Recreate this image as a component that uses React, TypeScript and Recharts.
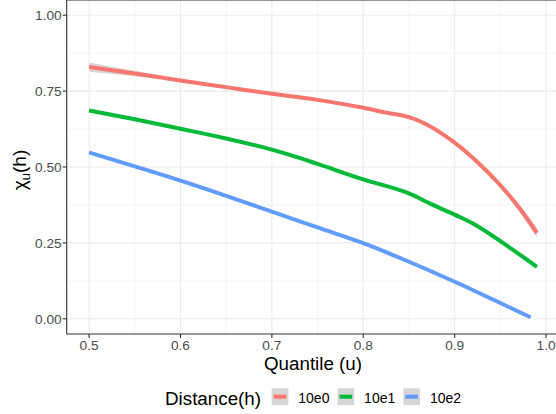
import { ComposedChart, Line, Area, XAxis, YAxis, ReferenceLine } from 'recharts';

// quantile u and chi_u(h), one set per distance
const u10e0 = [0.5, 0.55, 0.6, 0.65, 0.7, 0.75, 0.8, 0.825, 0.85, 0.866, 0.9, 0.92, 0.95, 0.972, 0.99];
const chi10e0 = [0.829, 0.808, 0.785, 0.763, 0.741, 0.721, 0.695, 0.679, 0.664, 0.645, 0.58, 0.53, 0.44, 0.36, 0.283];
const se10e0 = [0.015, 0.009, 0.006, 0.005, 0.005, 0.005, 0.005, 0.005, 0.005, 0.005, 0.006, 0.007, 0.009, 0.012, 0.016];

const u10e1 = [0.5, 0.55, 0.6, 0.65, 0.7, 0.73, 0.75, 0.8, 0.85, 0.875, 0.9, 0.92, 0.95, 0.99];
const chi10e1 = [0.686, 0.657, 0.626, 0.594, 0.557, 0.53, 0.51, 0.459, 0.413, 0.377, 0.343, 0.314, 0.256, 0.171];
const se10e1 = [0.005, 0.004, 0.003, 0.003, 0.003, 0.003, 0.003, 0.003, 0.003, 0.003, 0.003, 0.003, 0.004, 0.005];

const u10e2 = [0.5, 0.55, 0.6, 0.65, 0.7, 0.75, 0.8, 0.85, 0.9, 0.95, 0.983];
const chi10e2 = [0.548, 0.502, 0.455, 0.405, 0.353, 0.301, 0.249, 0.188, 0.122, 0.052, 0.005];
const se10e2 = [0.003, 0.002, 0.002, 0.002, 0.002, 0.002, 0.002, 0.002, 0.002, 0.003, 0.003];

const xTicks = [0.5, 0.6, 0.7, 0.8, 0.9, 1.0];
const xMinor = [0.55, 0.65, 0.75, 0.85, 0.95];
const yTicks = [0, 0.25, 0.5, 0.75, 1.0];
const yMinor = [0.125, 0.375, 0.625, 0.875];

const FONT = '"Liberation Sans", Arial, sans-serif';

const toRows = (u: number[], chi: number[], se: number[]) =>
  u.map((x, i) => ({ u: x, chi: chi[i], band: [chi[i] - se[i], chi[i] + se[i]] }));

const series = [
  { name: '10e0', color: '#F8766D', rows: toRows(u10e0, chi10e0, se10e0) },
  { name: '10e1', color: '#00BA38', rows: toRows(u10e1, chi10e1, se10e1) },
  { name: '10e2', color: '#619CFF', rows: toRows(u10e2, chi10e2, se10e2) },
];

const XTitle = ({ viewBox }: any) => (
  <text x={viewBox.x + viewBox.width / 2} y={370} textAnchor="middle" fontSize={18.8} fill="#000" fontFamily={FONT}>
    Quantile (u)
  </text>
);

const YTitle = () => (
  <text x={26} y={170} transform="rotate(-90 26 170)" textAnchor="middle" fontSize={19} fill="#000" fontFamily={FONT}>
    χ<tspan dy={4} fontSize={13}>u</tspan>
    <tspan dy={-4}>(h)</tspan>
  </text>
);

function LegendOverlay() {
  return (
    <svg width={556} height={414} style={{ position: 'absolute', left: 0, top: 0, pointerEvents: 'none' }}>
      <text x={165} y={405} fontSize={18.8} fontFamily={FONT} fill="#000">Distance(h)</text>
      {series.map((s, i) => {
        const x0 = 271.7 + i * 65.8;
        return (
          <g key={s.name}>
            <rect x={x0} y={388.3} width={16.7} height={16.7} fill="#999999" fillOpacity={0.4} />
            <line x1={x0 + 2} x2={x0 + 14.7} y1={396.7} y2={396.7} stroke={s.color} strokeWidth={4} />
            <text x={x0 + 26.6} y={402.7} fontSize={14} fontFamily={FONT} fill="#000">{s.name}</text>
          </g>
        );
      })}
    </svg>
  );
}

export default function App() {
  const tickStyle = { fontSize: 13.7, fill: '#4D4D4D', fontFamily: FONT };
  return (
    <div style={{ position: 'absolute', left: 0, top: 0, width: 556, height: 414, overflow: 'hidden', background: '#fff' }}>
      <ComposedChart width={560} height={414} margin={{ top: 0, right: 0.7, bottom: 0, left: 0 }}>
        {xMinor.map((v) => (
          <ReferenceLine key={'xm' + v} x={v} stroke="#F2F2F2" strokeWidth={0.8} />
        ))}
        {yMinor.map((v) => (
          <ReferenceLine key={'ym' + v} y={v} stroke="#F2F2F2" strokeWidth={0.8} />
        ))}
        {xTicks.map((v) => (
          <ReferenceLine key={'xM' + v} x={v} stroke="#EBEBEB" strokeWidth={1.1} />
        ))}
        {yTicks.map((v) => (
          <ReferenceLine key={'yM' + v} y={v} stroke="#EBEBEB" strokeWidth={1.1} />
        ))}
        <ReferenceLine y={1.05} stroke="#333333" strokeWidth={1.1} ifOverflow="extendDomain" />
        <XAxis
          type="number"
          dataKey="u"
          domain={[0.4755, 1.0145]}
          allowDataOverflow
          ticks={xTicks}
          tickFormatter={(v: number) => v.toFixed(1)}
          height={80}
          tickSize={4}
          tickMargin={2}
          tick={tickStyle}
          stroke="#333333"
          strokeWidth={1.1}
          label={<XTitle />}
        />
        <YAxis
          type="number"
          domain={[-0.05, 1.05]}
          allowDataOverflow
          ticks={yTicks}
          tickFormatter={(v: number) => v.toFixed(2)}
          width={66.7}
          tickSize={4}
          tickMargin={1}
          tick={tickStyle}
          stroke="#333333"
          strokeWidth={1.1}
          label={<YTitle />}
        />
        {series.map((s) => (
          <Area
            key={'band' + s.name}
            data={s.rows}
            dataKey="band"
            type="monotone"
            stroke="none"
            fill="#999999"
            fillOpacity={0.4}
            isAnimationActive={false}
          />
        ))}
        {series.map((s) => (
          <Line
            key={'line' + s.name}
            data={s.rows}
            dataKey="chi"
            name={s.name}
            type="monotone"
            stroke={s.color}
            strokeWidth={4}
            dot={false}
            isAnimationActive={false}
          />
        ))}
      </ComposedChart>
      <LegendOverlay />
    </div>
  );
}
